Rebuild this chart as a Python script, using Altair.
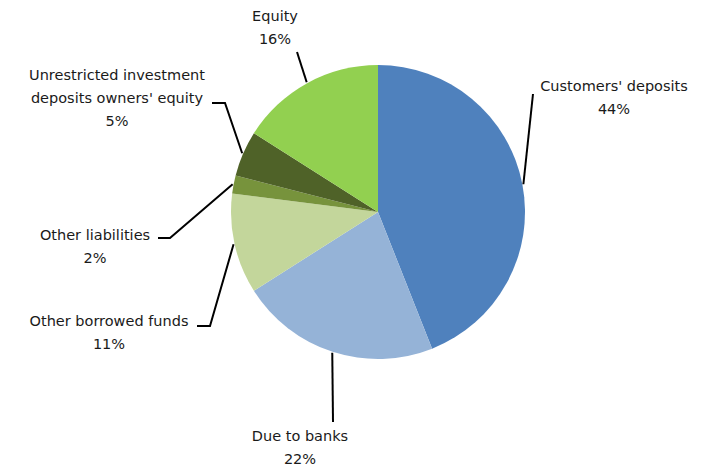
import math
import altair as alt
import pandas as pd

# ---- data ----
categories = ["Customers' deposits", "Due to banks", "Other borrowed funds",
              "Other liabilities", "Unrestricted investment deposits owners' equity", "Equity"]
values = [44, 22, 11, 2, 5, 16]
label_lines = [["Customers' deposits", "44%"],
               ["Due to banks", "22%"],
               ["Other borrowed funds", "11%"],
               ["Other liabilities", "2%"],
               ["Unrestricted investment", "deposits owners' equity", "5%"],
               ["Equity", "16%"]]
colors = ["#4F81BD", "#95B3D7", "#C3D69B", "#77933C", "#4F6228", "#92D050"]

# ---- layout (chart pixel space) ----
W, H = 690, 458
CX, CY, R = 370, 204, 147
label_pos = [(606, 79), (292, 429), (101, 314), (87, 228), (109, 68), (267, 9)]
line_gap = 23
leader_bends = [[(525, 86)], [(325, 414)], [(202, 318), (189, 318)],
                [(162, 230), (150, 230)], [(217, 95), (204, 95)], [(289, 44)]]

pie_df = pd.DataFrame({"cat": categories, "val": values, "ord": range(len(values))})

total = sum(values)
cum = 0
lines_rows, text_rows = [], []
for i, v in enumerate(values):
    mid = (cum + v / 2) / total * 2 * math.pi
    cum += v
    sx = CX + (R + 1) * math.sin(mid)
    sy = CY - (R + 1) * math.cos(mid)
    pts = [(sx, sy)] + leader_bends[i]
    for k, (px, py) in enumerate(pts):
        lines_rows.append({"g": i, "k": k, "x": px, "y": py})
    lx, ly = label_pos[i]
    for j, t in enumerate(label_lines[i]):
        text_rows.append({"x": lx, "y": ly + j * line_gap, "t": t})

lines_df = pd.DataFrame(lines_rows)
text_df = pd.DataFrame(text_rows)

xs = alt.Scale(domain=[0, W], range=[0, W])
ys = alt.Scale(domain=[0, H], range=[0, H])

shadow = alt.Chart(pd.DataFrame({"v": [1]})).mark_arc(
    radius=R + 1, color="#b0b0b0", opacity=0.45
).encode(theta=alt.Theta("v:Q"), x=alt.value(CX + 1), y=alt.value(CY + 3))

pie = alt.Chart(pie_df).mark_arc(radius=R).encode(
    theta=alt.Theta("val:Q", stack=True),
    order=alt.Order("ord:Q"),
    color=alt.Color("cat:N", scale=alt.Scale(domain=categories, range=colors), legend=None),
    x=alt.value(CX), y=alt.value(CY),
)

leaders = alt.Chart(lines_df).mark_line(color="#000000", strokeWidth=2).encode(
    x=alt.X("x:Q", scale=xs, axis=None),
    y=alt.Y("y:Q", scale=ys, axis=None),
    detail="g:N",
    order="k:Q",
)

labels = alt.Chart(text_df).mark_text(
    font="DejaVu Sans", fontSize=14.5, color="#1a1a1a", align="center", baseline="middle"
).encode(
    x=alt.X("x:Q", scale=xs, axis=None),
    y=alt.Y("y:Q", scale=ys, axis=None),
    text="t:N",
)

chart = alt.layer(shadow, pie, leaders, labels).properties(
    width=W, height=H, padding=0,
    autosize=alt.AutoSizeParams(type="fit", contains="padding"),
    background="#ffffff",
).configure_view(stroke=None)

chart.save("out.html", embed_options={"renderer": "svg", "actions": False})
